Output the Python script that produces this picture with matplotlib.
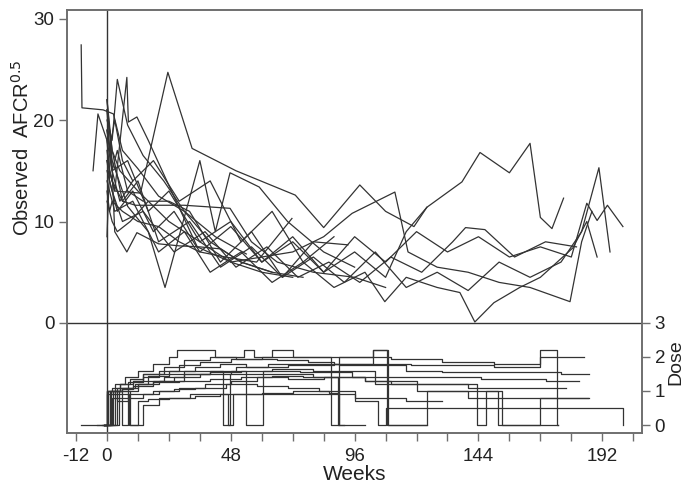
import matplotlib
matplotlib.use("Agg")
import matplotlib.pyplot as plt

plt.rcParams['font.family'] = ['Liberation Sans', 'DejaVu Sans']

# ---------------- AFCR^0.5 per subject (weeks, values) ----------------
afcr_weeks = [
    [-10, -9.7, -1.5, 2.5, 6, 12, 20, 30, 42, 54],
    [0, 1, 3, 13, 23.6, 33, 50, 73, 84, 98, 108, 119, 124],
    [0, 2, 4, 8, 14, 22, 30, 40, 52, 64],
    [0, 1, 3, 7.7, 8.3, 11.6, 16, 25, 35, 48, 60, 72],
    [0, 0.5, 1.5, 3, 7.7, 11.6, 20, 28, 36, 44, 52, 64, 76],
    [0, 2, 6, 11, 30, 47.7, 56, 66, 80, 96, 108],
    [0, 2, 8, 16, 22.5, 36, 42, 47.7, 59, 70, 84, 96],
    [-5.4, -3.5, 0, 2, 5, 10, 18, 28, 40, 52, 64, 76, 88],
    [0, 1, 2, 6, 12, 20, 28, 36, 46, 58, 71.7],
    [0, 2, 4, 9, 16, 24, 32, 44, 56, 68, 80, 93.4],
    [0, 1, 2, 4, 8, 14],
    [0, 1, 3, 6, 10],
    [0, 2, 6, 12, 20, 32, 44, 56, 68, 80, 92, 104, 116, 128, 140, 152, 164, 176, 184, 190.7, 195],
    [0, 1, 4, 10, 18, 26, 36, 48, 60, 72, 84, 96, 108, 120, 132, 144, 156, 168, 180, 186, 190, 194, 200],
    [0, 2, 8, 16, 24, 36, 48, 60, 72, 84, 96, 108, 116, 124, 137.6, 144.6, 156, 164, 168, 172.5, 177],
    [0, 3, 10, 20, 30, 40, 52, 64, 76, 88, 100, 107.7, 116, 128, 136.8, 142.6, 150, 160, 168, 180.6, 186, 190],
    [0, 2, 5, 12, 24, 36, 48, 60, 72, 84, 95, 111.6, 116.7, 128, 140, 152, 164, 179.5, 184, 188],
    [0, 2, 6, 14, 26, 38, 50, 62, 74, 86, 98, 110, 122, 134, 139, 146.5, 158, 170, 182],
]
afcr_values = [
    [27.4, 21.2, 21.0, 20.6, 17, 15.2, 12.5, 11, 8.5, 6.8],
    [17, 15, 13, 12.8, 24.7, 17.2, 15.0, 12.6, 9.4, 13.6, 11, 9.5, 11.4],
    [20, 18, 24, 19.5, 16.5, 14, 11, 8, 6, 5],
    [18, 15, 13, 24.2, 19.8, 20.3, 18, 13, 7.5, 6, 5, 4.5],
    [8.5, 12, 18, 9.0, 7.0, 8.9, 7.8, 7.6, 7.5, 7.3, 6.0, 5.0, 4.5],
    [16, 14, 12, 11.6, 11.6, 11.3, 8, 6, 5, 4.5, 3.5],
    [19, 16, 11.5, 9, 3.5, 16.0, 9, 14.8, 13.4, 10, 7, 5.5],
    [15, 20.6, 18, 15, 12, 14, 16, 12, 14, 8, 11, 6, 8.5],
    [13, 11, 12, 11, 10, 9.5, 8, 7, 6.5, 6, 10.3],
    [12, 10, 9, 10, 12, 12, 11, 6, 9, 4.5, 8, 7.7],
    [22, 19, 15, 17, 13, 12],
    [21, 17, 20, 16, 14],
    [21, 17, 12, 14, 8, 10, 5.5, 7.5, 4.5, 6.5, 4, 7, 3.5, 5, 3.2, 6, 4.5, 6, 9, 15.3, 7.0],
    [16, 14, 11, 13, 9, 11, 7, 9.5, 6, 8, 5, 8.5, 6, 9, 7, 8.5, 6.5, 7.5, 6.5, 11.8, 10.1, 11.6, 9.5],
    [19, 15, 16, 11, 13, 8, 10, 6, 8.5, 5, 7, 4.5, 9, 11.4, 13.9, 16.8, 14.8, 17.7, 10.4, 9.3, 12.3],
    [14, 11, 12, 7, 9, 5, 7, 4, 6, 3.5, 5, 2.1, 4.5, 3.5, 3.0, 0.1, 2.0, 3.5, 4.5, 7.4, 10, 6.5],
    [22, 17, 15, 13, 10, 8, 6, 6.5, 7, 8.5, 10.8, 12.9, 7.0, 5.5, 5, 4, 3.5, 2.1, 8, 11.0],
    [15, 13, 10, 11, 7, 9, 5.5, 7.5, 4.5, 6, 4, 6.5, 5, 8, 9.4, 9.2, 6.5, 8.0, 7.5],
]

# ---------------- Dose per subject (step changes: weeks, dose) ----------------
dose_weeks = [
    [-10, 0, 2, 5, 9, 14, 20, 28, 36, 48, 60, 72, 90, 110, 130, 150, 168, 185],
    [-4, 0, 3, 7, 12, 18, 24, 27, 42, 53, 57, 64, 72, 87, 90, 103, 108.5, 124],
    [-2, 0, 4, 8, 14, 20, 30, 45, 47.5, 60, 80, 100, 120, 143.4, 147, 151.5, 175],
    [-1, 1.2, 5, 10, 16, 24, 34, 44, 54, 62.5, 70, 90, 116, 130, 160, 176, 187],
    [-1, 2.3, 6, 8, 12, 18, 26, 36, 48, 54, 60.5, 75, 95, 120, 145, 170, 183],
    [-1, 3.9, 8, 12, 20, 30, 40, 50, 70, 88, 103, 109, 124, 140, 168, 186.5],
    [-1, 0, 3, 6, 11, 16, 22, 30, 40, 52, 64, 80, 104, 120, 153, 168, 187],
    [-1, 1, 4, 8, 14, 20, 28, 38, 48, 58, 70, 84, 100, 110, 140, 178],
    [-1, 2, 8, 12, 18, 26, 34, 46, 58, 70, 82, 96, 105, 108, 124, 144, 200],
    [-1, 0.5, 5, 10, 14, 22, 30, 40, 50, 66, 78, 88, 106, 118, 150, 168, 174.5, 175],
    [-1, 3, 8.5, 12, 16, 24, 34, 44, 56, 68, 96, 116, 130],
    [-1, 1.5, 6, 10, 18, 28, 40, 52, 64, 76, 89.5, 92],
    [-1, 4.5, 9, 14, 20, 32, 47, 49, 60, 72, 86, 90, 100],
]
dose_values = [
    [0, 1.0, 1.1, 1.2, 1.35, 1.5, 1.6, 1.75, 1.85, 1.95, 2.0, 2.0, 2.0, 1.95, 1.85, 1.8, 2.0, 2.0],
    [0, 1.0, 1.2, 1.4, 1.6, 1.8, 2.0, 2.2, 2.0, 2.2, 2.0, 2.2, 2.0, 0, 2.0, 2.2, 0, 0],
    [0, 1.0, 1.1, 1.25, 1.4, 1.5, 1.6, 0, 1.5, 1.5, 1.4, 1.3, 1.2, 0, 1.0, 0, 0],
    [0, 1.0, 1.1, 1.3, 1.45, 1.6, 1.7, 1.8, 1.7, 1.8, 1.8, 1.75, 1.6, 1.55, 1.55, 1.5, 1.5],
    [0, 1.0, 0, 1.0, 1.2, 1.3, 1.4, 1.5, 1.6, 0, 1.6, 1.55, 1.4, 1.4, 1.35, 1.3, 1.3],
    [0, 1.0, 1.1, 1.2, 1.3, 1.5, 1.6, 1.7, 1.75, 1.8, 2.2, 0, 1.0, 0.8, 0.8, 0.8],
    [0, 0.9, 1.0, 1.1, 1.2, 1.3, 1.4, 1.5, 1.55, 1.6, 1.65, 1.6, 1.2, 1.0, 0, 0.8, 0.8],
    [0, 0.9, 0.7, 0.8, 0.9, 1.0, 1.1, 1.2, 1.3, 1.4, 1.35, 1.4, 1.3, 1.2, 1.1, 1.1],
    [0, 0.8, 0.9, 0.9, 1.0, 1.05, 1.1, 1.2, 1.15, 1.1, 1.0, 0.7, 0, 0.5, 0.5, 0.5, 0],
    [0, 1.0, 1.2, 1.3, 1.5, 1.7, 1.9, 2.0, 1.95, 1.9, 1.85, 1.8, 1.8, 1.75, 1.7, 2.2, 0, 0],
    [0, 0.9, 0, 0.7, 0.75, 0.8, 0.85, 0.9, 0.9, 0.9, 0.8, 0.7, 0.7],
    [0, 1.0, 1.05, 1.15, 1.25, 1.3, 1.35, 1.4, 1.45, 1.4, 0, 0],
    [0, 1.0, 0, 0.6, 0.8, 0.9, 0, 0.9, 0.95, 1.0, 0.95, 0, 0],
]

x_ticks = list(range(-12, 205, 12))
x_labels = {-12: '-12', 0: '0', 48: '48', 96: '96', 144: '144', 192: '192'}
y_ticks = [0, 10, 20, 30]
dose_ticks = [0, 1, 2, 3]

line_col = '#333333'
frame_col = '#6e6e6e'
text_col = '#222222'

fig = plt.figure(figsize=(6.85, 4.92), dpi=100)
ax = fig.add_axes([67 / 685, 1 - 433 / 492, (642 - 67) / 685, (433 - 10) / 492])
ax.set_xlim(-15.5, 207.4)
ax.set_ylim(-10.84, 30.84)

for w, v in zip(afcr_weeks, afcr_values):
    ax.plot(w, v, color=line_col, lw=0.9)

ax.axhline(0, color=line_col, lw=1.0)
ax.axvline(0, color=line_col, lw=1.0)

ax.set_xticks(x_ticks)
ax.set_xticklabels([x_labels.get(t, '') for t in x_ticks])
ax.set_yticks(y_ticks)
ax.tick_params(axis='both', direction='out', length=6, width=1, color=frame_col,
               labelsize=13.5, pad=3, labelcolor=text_col)
ax.tick_params(axis='x', pad=5)
ax.set_xlabel('Weeks', fontsize=15, color=text_col, labelpad=0)
for s in ax.spines.values():
    s.set_color(frame_col)
    s.set_linewidth(1.2)

ax2 = ax.twinx()
ax2.set_ylim(-0.235, 12.2)
for w, d in zip(dose_weeks, dose_values):
    ax2.plot(w, d, color=line_col, lw=0.9, drawstyle='steps-post')
ax2.set_yticks(dose_ticks)
ax2.tick_params(axis='y', direction='out', length=6, width=1, color=frame_col,
                labelsize=13.5, pad=3, labelcolor=text_col)
for s in ax2.spines.values():
    s.set_color(frame_col)
    s.set_linewidth(1.2)

fig.text(22 / 685, 1 - 148 / 492, 'Observed  AFCR$^{0.5}$', rotation=90,
         ha='center', va='center', fontsize=14.5, color=text_col)
fig.text(676 / 685, 1 - 362 / 492, 'Dose', rotation=90,
         ha='center', va='center', fontsize=14, color=text_col)

fig.savefig('out.png', dpi=100)
